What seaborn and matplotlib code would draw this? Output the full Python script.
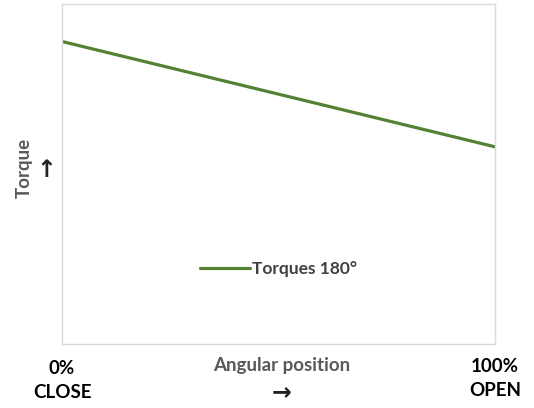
import matplotlib
matplotlib.use("Agg")
import matplotlib.pyplot as plt
import seaborn as sns
import pandas as pd

# data
position = [0, 100]          # % open
torque = [89, 58]            # relative torque
series_name = "Torques 180°"

sns.set_style("white")
plt.rcParams['font.family'] = ['Lato', 'DejaVu Sans']

df = pd.DataFrame({"position": position, "torque": torque})

fig = plt.figure(figsize=(5.34, 4.08), dpi=100)
ax = fig.add_axes([0.116, 0.157, 0.811, 0.833])
sns.lineplot(data=df, x="position", y="torque", ax=ax, color="#548235",
             linewidth=2.3, label=series_name)
ax.set_xlim(0, 100)
ax.set_ylim(0, 100)
ax.set_xticks([])
ax.set_yticks([])
ax.set_xlabel("")
ax.set_ylabel("")
for s in ax.spines.values():
    s.set_color("#d9d9d9")
    s.set_linewidth(1.0)

leg = ax.legend(loc="center", bbox_to_anchor=(0.5, 0.22), frameon=False,
                handlelength=2.9, handletextpad=0.1,
                prop={"weight": "bold", "size": 12.5})
for t in leg.get_texts():
    t.set_color("#404040")

# axis annotations
fs = 13.5
fig.text(62 / 534, 1 - 369 / 408, "0%", ha="center", va="center",
         fontsize=fs, fontweight="bold", color="black")
fig.text(62 / 534, 1 - 393 / 408, "CLOSE", ha="center", va="center",
         fontsize=fs, fontweight="bold", color="black")
fig.text(495 / 534, 1 - 367 / 408, "100%", ha="center", va="center",
         fontsize=fs, fontweight="bold", color="black")
fig.text(495 / 534, 1 - 391 / 408, "OPEN", ha="center", va="center",
         fontsize=fs, fontweight="bold", color="black")
fig.text(282 / 534, 1 - 366 / 408, "Angular position", ha="center", va="center",
         fontsize=fs, fontweight="bold", color="#595959")
fig.text(282 / 534, 1 - 392 / 408, "→", ha="center", va="center",
         fontsize=17, fontweight="bold", color="#222222", family="DejaVu Sans")
fig.text(24 / 534, 1 - 168 / 408, "Torque", ha="center", va="center",
         rotation=90, fontsize=fs, fontweight="bold", color="#595959")
fig.text(46 / 534, 1 - 170 / 408, "↑", ha="center", va="center",
         fontsize=17, fontweight="bold", color="#222222", family="DejaVu Sans")

fig.savefig("out.png", dpi=100)
